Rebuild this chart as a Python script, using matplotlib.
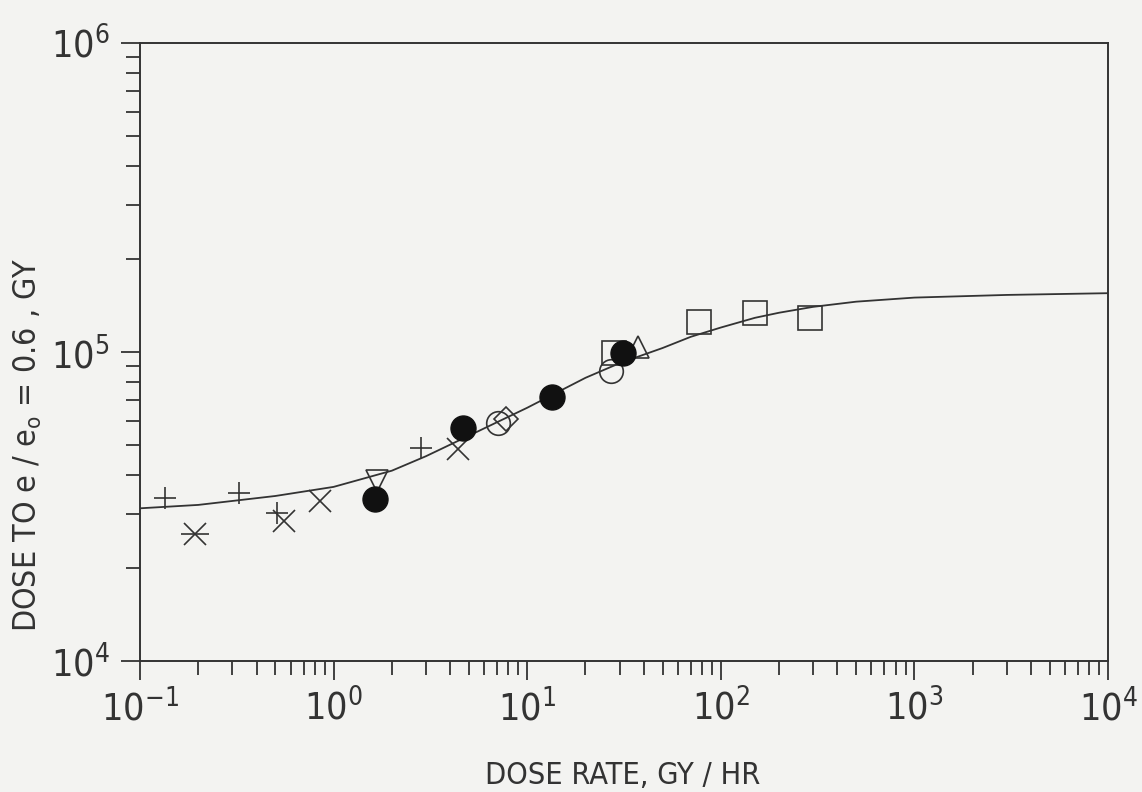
import numpy as np
import matplotlib
matplotlib.use("Agg")
import matplotlib.pyplot as plt
from matplotlib.ticker import LogLocator, NullFormatter, FuncFormatter

plt.rcParams['font.family'] = ['DejaVu Sans']
plt.rcParams['font.stretch'] = 'condensed'
plt.rcParams['mathtext.default'] = 'regular'

# fitted curve
curve_x = [0.1, 0.2, 0.5, 1, 2, 3, 5, 10, 20, 30, 50, 70, 100, 150, 200, 300, 500,
           1000, 3000, 10000]
curve_y = [3.12e4, 3.2e4, 3.42e4, 3.66e4, 4.13e4, 4.6e4, 5.36e4, 6.6e4, 8.25e4,
           9.2e4, 1.03e5, 1.12e5, 1.2e5, 1.29e5, 1.34e5, 1.40e5, 1.455e5,
           1.50e5, 1.53e5, 1.55e5]

# data points by symbol
plus_x = [0.135, 0.324, 0.508, 2.84]
plus_y = [3.38e4, 3.5e4, 3.02e4, 4.9e4]
cross_x = [0.192, 0.552, 0.848, 4.41]
cross_y = [2.58e4, 2.84e4, 3.30e4, 4.87e4]
dot_x = [1.63, 4.68, 13.5, 31.3]
dot_y = [3.35e4, 5.66e4, 7.13e4, 9.9e4]
vtri_x = [1.67]
vtri_y = [3.83e4]
ocirc_x = [7.1, 27.1]
ocirc_y = [5.9e4, 8.71e4]
diam_x = [7.8]
diam_y = [6.08e4]
tri_x = [37.3]
tri_y = [1.04e5]
sq_x = [28.1, 77, 150, 288]
sq_y = [9.9e4, 1.25e5, 1.34e5, 1.29e5]

ink = '#333333'
bg = '#f3f3f1'

fig = plt.figure(figsize=(11.42, 7.92), dpi=100, facecolor=bg)
ax = fig.add_axes([140 / 1142, 1 - 661 / 792, (1108 - 140) / 1142, (661 - 43) / 792])
ax.set_facecolor(bg)

ax.plot(curve_x, curve_y, color=ink, lw=1.3, zorder=2)

kw = dict(ls='none', color=ink, zorder=3)
ax.plot(sq_x, sq_y, marker='s', ms=17, mfc='none', mew=1.2, **kw)
ax.plot(ocirc_x, ocirc_y, marker='o', ms=17, mfc='none', mew=1.2, **kw)
ax.plot(diam_x, diam_y, marker='D', ms=12, mfc='none', mew=1.2, **kw)
ax.plot(tri_x, tri_y, marker='^', ms=16, mfc='none', mew=1.2, **kw)
ax.plot(vtri_x, vtri_y, marker='v', ms=16, mfc='none', mew=1.2, **kw)
ax.plot(plus_x, plus_y, marker='+', ms=16, mew=1.2, **kw)
ax.plot(cross_x, cross_y, marker='x', ms=16, mew=1.2, **kw)
ax.plot(cross_x[:1], cross_y[:1], marker='_', ms=20, mew=1.2, **kw)
ax.plot(dot_x, dot_y, marker='o', ms=18, mfc='#111111', mec='#111111', **kw)

ax.set_xscale('log')
ax.set_yscale('log')
ax.set_xlim(1e-1, 1e4)
ax.set_ylim(1e4, 1e6)

pow10 = FuncFormatter(lambda v, p: '$10^{%d}$' % round(np.log10(v)))
ax.xaxis.set_major_locator(LogLocator(base=10, numticks=10))
ax.xaxis.set_minor_locator(LogLocator(base=10, subs=np.arange(2, 10), numticks=20))
ax.yaxis.set_major_locator(LogLocator(base=10, numticks=10))
ax.yaxis.set_minor_locator(LogLocator(base=10, subs=np.arange(2, 10), numticks=20))
ax.xaxis.set_major_formatter(pow10)
ax.yaxis.set_major_formatter(pow10)
ax.xaxis.set_minor_formatter(NullFormatter())
ax.yaxis.set_minor_formatter(NullFormatter())

for s in ax.spines.values():
    s.set_color(ink)
    s.set_linewidth(1.4)

ax.tick_params(which='both', direction='out', colors=ink, width=1.3,
               top=False, right=False)
ax.tick_params(which='major', length=14, labelsize=27, pad=6)
ax.tick_params(which='minor', length=10)
ax.tick_params(axis='y', which='major', pad=8)

fig.text(623 / 1142, 1 - 776 / 792, 'DOSE RATE, GY / HR', ha='center', va='center',
         fontsize=22, color=ink)
fig.text(28 / 1142, 1 - 445 / 792, 'DOSE TO e / e$_{o}$ = 0.6 , GY', ha='center',
         va='center', rotation=90, fontsize=23, color=ink)

fig.savefig('out.png', dpi=100, facecolor=bg)
